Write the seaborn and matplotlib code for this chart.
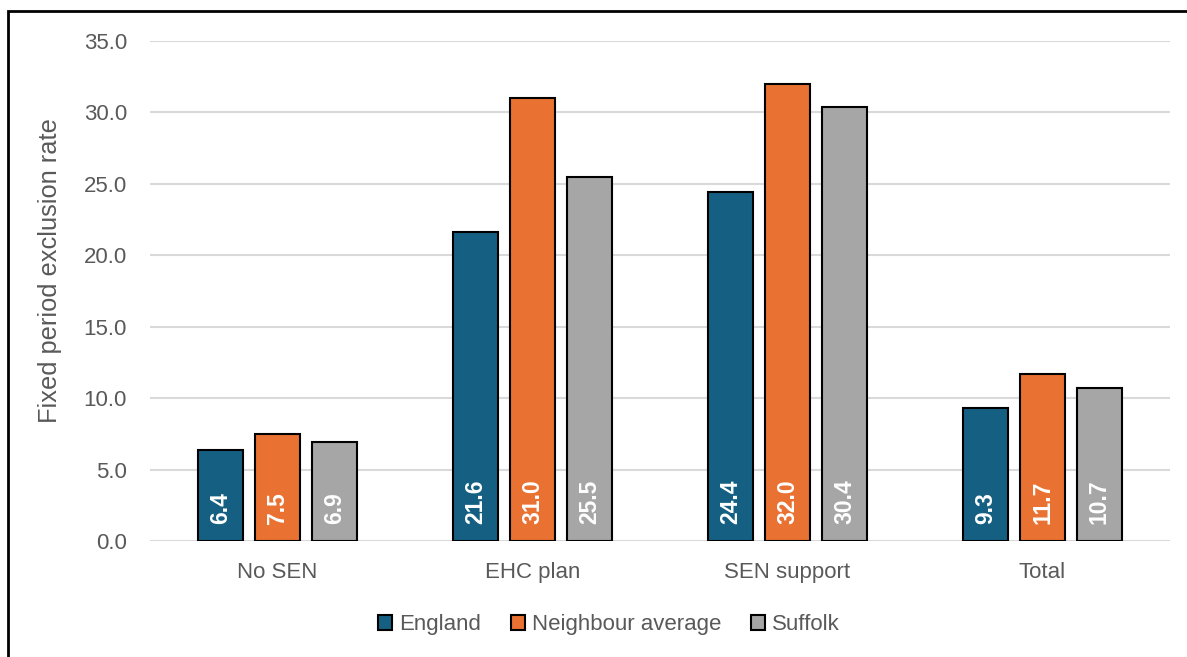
import matplotlib
matplotlib.use("Agg")
import matplotlib.pyplot as plt
import matplotlib.patches as mpatches
import seaborn as sns
import pandas as pd

categories = ["No SEN", "EHC plan", "SEN support", "Total"]
series = ["England", "Neighbour average", "Suffolk"]
england = [6.4, 21.6, 24.4, 9.3]
neighbour = [7.5, 31.0, 32.0, 11.7]
suffolk = [6.9, 25.5, 30.4, 10.7]
yticks = [0, 5, 10, 15, 20, 25, 30, 35]

colors = ["#156082", "#E97132", "#A6A6A6"]
text_grey = "#595959"

rows = []
for name, vals in zip(series, [england, neighbour, suffolk]):
    for cat, v in zip(categories, vals):
        rows.append({"category": cat, "series": name, "value": v})
df = pd.DataFrame(rows)

sns.set_theme(style="white")
plt.rcParams["font.family"] = ["Liberation Sans", "DejaVu Sans"]

fig = plt.figure(figsize=(11.87, 6.57), dpi=100)
ax = fig.add_axes([0.1264, 0.1766, 0.8593, 0.7610])

sns.barplot(data=df, x="category", y="value", hue="series", order=categories,
            hue_order=series, palette=colors, width=0.67, edgecolor="black",
            linewidth=1.5, saturation=1, legend=False, ax=ax, zorder=3)

# narrow each bar around its centre to leave gaps within a group
bar_w = 0.176
for p in ax.patches:
    cx = p.get_x() + p.get_width() / 2
    p.set_width(bar_w)
    p.set_x(cx - bar_w / 2)

# value labels, rotated, sitting at the base of each bar
for p in ax.patches:
    h = p.get_height()
    ax.annotate(f"{h:.1f}", (p.get_x() + p.get_width() / 2, 0),
                xytext=(0, 12.5), textcoords="offset points",
                rotation=90, ha="center", va="bottom", color="white",
                fontsize=16.5, fontweight="bold", zorder=4)

ax.set_ylim(0, 35)
ax.set_xlim(-0.5, 3.5)
ax.set_yticks(yticks)
ax.set_yticklabels([f"{t:.1f}" for t in yticks])
ax.yaxis.grid(True, color="#d9d9d9", linewidth=1.5, zorder=0)
ax.set_axisbelow(True)
for s in ["top", "right", "left", "bottom"]:
    ax.spines[s].set_visible(False)
ax.tick_params(axis="both", length=0, colors=text_grey, labelsize=16)
ax.tick_params(axis="x", pad=15)
ax.tick_params(axis="y", pad=16.5)
ax.set_xlabel("")
ax.set_ylabel("Fixed period exclusion rate", fontsize=18.3, color=text_grey)
ax.yaxis.set_label_coords(-0.0863, 0.54)

handles = [mpatches.Patch(facecolor=c, edgecolor="black", linewidth=1.5, label=n)
           for c, n in zip(colors, series)]
leg = fig.legend(handles=handles, loc="center", bbox_to_anchor=(0.513, 0.049),
                 ncol=3, frameon=False, fontsize=16, handlelength=0.63,
                 handleheight=0.63, handletextpad=0.3, columnspacing=1.35)
for t in leg.get_texts():
    t.set_color(text_grey)

# chart frame
fig.patches.append(mpatches.Rectangle((8 / 1187, -0.1), 1.2, 1 - 11 / 657 + 0.1,
                                      transform=fig.transFigure, fill=False,
                                      edgecolor="black", linewidth=2, zorder=10))

fig.savefig("out.png", dpi=100)
